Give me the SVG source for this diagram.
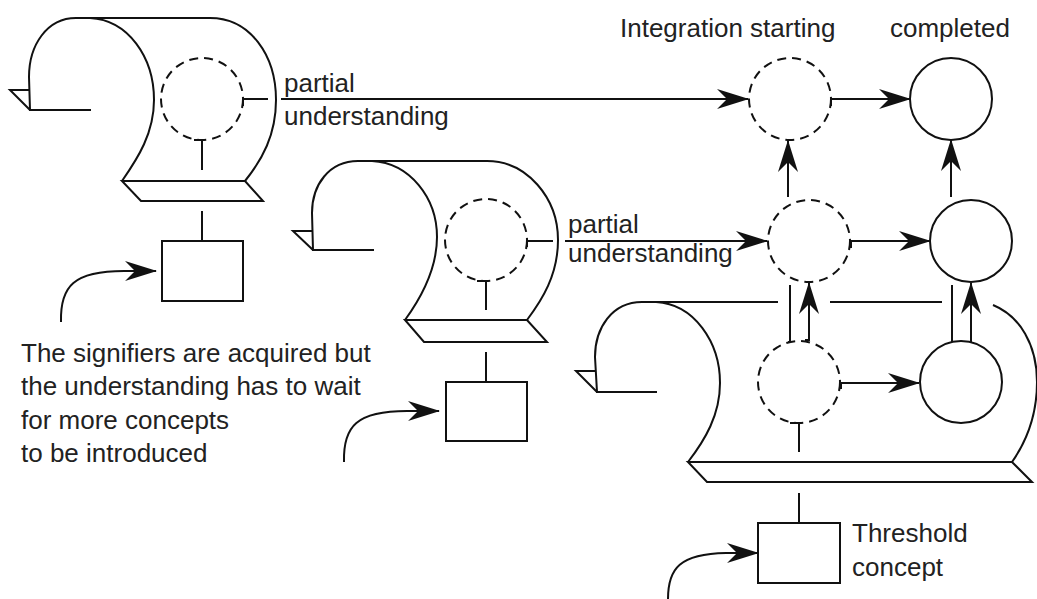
<svg xmlns="http://www.w3.org/2000/svg" width="1037" height="599" viewBox="0 0 1037 599">
<defs>
<style>
.ln{fill:none;stroke:#111;stroke-width:2}
.dash{fill:none;stroke:#111;stroke-width:2;stroke-dasharray:9 6}
.solid{fill:none;stroke:#111;stroke-width:2}
.box{fill:#fff;stroke:#111;stroke-width:2}
.t{font-family:"Liberation Sans",Arial,sans-serif;font-size:26px;fill:#222}
.arr{fill:none;stroke:#111;stroke-width:2;marker-end:url(#ah)}
</style>
<marker id="ah" markerUnits="userSpaceOnUse" viewBox="-33 -11 35 22" refX="0" refY="0" markerWidth="35" markerHeight="22" orient="auto" overflow="visible">
<path d="M1,0 L-31,-10 L-21,0 L-31,10 Z" fill="#111"/>
</marker>
</defs>
<rect width="1037" height="599" fill="#fff"/>

<g id="scroll1">
<path class="ln" d="M76,18 L210,18"/>
<path class="ln" d="M76,18 C47,18 29,45 29,77 L30,110 L91,110"/>
<path class="ln" d="M29,90 L10,90 L30,110"/>
<path class="ln" d="M90,18 C128,20 154,57 154,100 C154,133 138,158 122,181"/>
<path class="ln" d="M210,18 C250,18 276,55 276,100 C276,135 262,160 245,181"/>
<path class="ln" d="M122,181 L245,181 L263,201 L141,201 Z"/>
<circle class="dash" cx="202" cy="99" r="41"/>
<path class="ln" d="M243,106 L243,99 L268,99"/>
<path class="ln" d="M194,140 L202,140 L202,170"/>
</g>

<g id="scroll2">
<path class="ln" d="M358,161 L487,161"/>
<path class="ln" d="M358,161 C329,161 312,185 312,213 L313,250 L374,250"/>
<path class="ln" d="M312,231 L293,231 L313,250"/>
<path class="ln" d="M372,161 C410,163 437,198 437,237 C437,270 421,298 405,320"/>
<path class="ln" d="M487,161 C527,161 558,198 558,240 C558,275 542,300 527,320"/>
<path class="ln" d="M405,320 L527,320 L547,342 L424,342 Z"/>
<circle class="dash" cx="486" cy="240" r="41"/>
<path class="ln" d="M527,247 L527,241 L553,241"/>
<path class="ln" d="M477,281 L486,281 L486,310"/>
</g>

<g id="scroll3">
<path class="ln" d="M642,302 L778,302"/>
<path class="ln" d="M830,302 L942,302"/>
<path class="ln" d="M642,302 C612,302 595,328 595,357 L597,392 L657,392"/>
<path class="ln" d="M595,371 L576,371 L597,392"/>
<path class="ln" d="M656,302 C694,304 720,342 720,383 C720,415 705,440 688,462"/>
<path class="ln" d="M993,305 C1020,316 1037,345 1037,382 C1037,415 1026,442 1012,462"/>
<path class="ln" d="M688,462 L1012,462 L1032,482 L707,482 Z"/>
<path class="ln" d="M790,423 L799,423 L799,452"/>
</g>

<g id="circle-int-top"><circle class="dash" cx="790" cy="99" r="41"/></g>
<g id="circle-done-top"><circle class="solid" cx="951" cy="99" r="41"/></g>
<g id="circle-int-mid"><circle class="dash" cx="809" cy="241" r="41"/></g>
<g id="circle-done-mid"><circle class="solid" cx="971" cy="241" r="41"/></g>
<g id="circle-int-low"><circle class="dash" cx="799" cy="382" r="41"/></g>
<g id="circle-done-low"><circle class="solid" cx="961" cy="382" r="41"/></g>

<g id="box1"><rect class="box" x="162" y="241" width="81" height="60"/></g>
<g id="box2"><rect class="box" x="446" y="382" width="81" height="59"/></g>
<g id="box3"><rect class="box" x="758" y="523" width="82" height="60"/></g>

<g id="connectors">
<path class="ln" d="M202,211 L202,241"/>
<path class="ln" d="M486,352 L486,382"/>
<path class="ln" d="M799,493 L799,523"/>
<path class="arr" d="M281,99 L748,99"/>
<path class="arr" d="M565,241 L767,241"/>
<path class="ln" d="M831,106 L831,99"/>
<path class="arr" d="M831,99 L910,99"/>
<path class="ln" d="M851,248 L851,241"/>
<path class="arr" d="M851,241 L930,241"/>
<path class="ln" d="M841,389 L841,383"/>
<path class="arr" d="M841,383 L919,383"/>
<path class="arr" d="M788,197 L788,141"/>
<path class="arr" d="M951,197 L951,140"/>
<path class="ln" d="M788,342 L790,342 L790,285"/>
<path class="arr" d="M805,340 L809,340 L809,283"/>
<path class="ln" d="M952,342 L952,285"/>
<path class="arr" d="M971,342 L971,283"/>
<path class="arr" d="M61,322 C60,286 74,271 124,271 L156,271"/>
<path class="arr" d="M344,462 C343,426 357,411 407,411 L439,411"/>
<path class="arr" d="M668,599 C668,568 680,554 726,553 L758,553"/>
</g>

<g id="labels">
<text class="t" x="620" y="37">Integration starting</text>
<text class="t" x="890" y="37">completed</text>
<text class="t" x="284" y="92">partial</text>
<text class="t" x="284" y="125">understanding</text>
<text class="t" x="568" y="233">partial</text>
<text class="t" x="568" y="262">understanding</text>
<text class="t" x="852" y="542">Threshold</text>
<text class="t" x="852" y="576">concept</text>
<text class="t" x="21" y="362">The signifiers are acquired but</text>
<text class="t" x="21" y="395">the understanding has to wait</text>
<text class="t" x="21" y="429">for more concepts</text>
<text class="t" x="21" y="462">to be introduced</text>
</g>
</svg>
